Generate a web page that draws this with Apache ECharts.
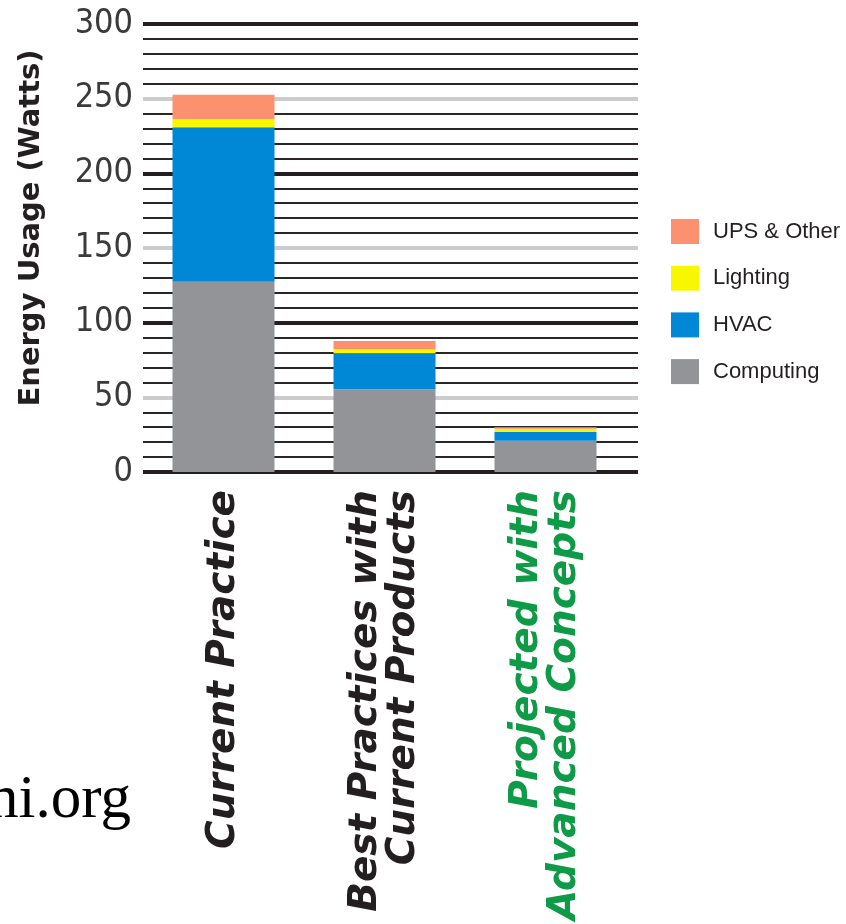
<!DOCTYPE html>
<html>
<head>
<meta charset="utf-8">
<script src="https://cdn.jsdelivr.net/npm/echarts@6/dist/echarts.min.js"></script>
<style>
  html, body { margin: 0; padding: 0; background: #ffffff; }
  #chart { width: 846px; height: 924px; }
</style>
</head>
<body>
<div id="chart"></div>
<script>
// Energy usage by scenario (Watts), stacked by end use
const categories = [
  'Current Practice',
  'Best Practices with\nCurrent Products',
  'Projected with\nAdvanced Concepts'
];
const computing = [127.4, 55.4, 21.0];
const hvac = [103.4, 24.1, 5.8];
const lighting = [5.6, 2.7, 2.2];
const upsOther = [16.2, 5.5, 0.9];

const seriesNames = ['Computing', 'HVAC', 'Lighting', 'UPS & Other'];
const seriesColors = ['#929497', '#0088d6', '#f7f700', '#fc916f'];
const categoryColors = ['#231f20', '#231f20', '#0f9a47'];

const yMin = 0;
const yMax = 300;
const minorStep = 10;
const majorStep = 50;

const chart = echarts.init(document.getElementById('chart'));

const gridTop = 24;
const gridBottom = 924 - 472;

const values = [computing, hvac, lighting, upsOther];

chart.setOption({
  animation: false,
  backgroundColor: '#ffffff',
  grid: [
    // ruled background lines
    { left: 143, right: 846 - 638, top: gridTop, bottom: gridBottom },
    // bars
    { left: 143, right: 846 - 626, top: gridTop, bottom: gridBottom }
  ],
  xAxis: [
    { gridIndex: 0, type: 'value', min: 0, max: 1, show: false },
    {
      gridIndex: 1,
      type: 'category',
      data: categories,
      axisLine: { show: false },
      axisTick: { show: false },
      splitLine: { show: false },
      axisLabel: {
        interval: 0,
        rotate: 90,
        margin: 18,
        fontFamily: 'DejaVu Sans',
        fontWeight: 'bold',
        fontStyle: 'italic',
        fontSize: 39,
        lineHeight: 38,
        align: 'right',
        color: function (value, index) { return categoryColors[index]; }
      }
    }
  ],
  yAxis: [
    {
      gridIndex: 0,
      type: 'value',
      position: 'left',
      min: yMin,
      max: yMax,
      interval: minorStep,
      z: 0,
      axisLine: { show: false },
      axisTick: { show: false },
      axisLabel: { show: false },
      splitLine: { show: true, lineStyle: { color: '#2a2627', width: 2 } }
    },
    {
      gridIndex: 0,
      type: 'value',
      position: 'left',
      min: yMin,
      max: yMax,
      interval: majorStep,
      z: 1,
      name: 'Energy Usage (Watts)',
      nameLocation: 'middle',
      nameGap: 97,
      nameTextStyle: {
        fontFamily: 'DejaVu Sans',
        fontWeight: 'bold',
        fontSize: 29,
        color: '#231f20',
        padding: [0, 0, 0, 40]
      },
      axisLine: { show: false },
      axisTick: { show: false },
      axisLabel: {
        margin: 10,
        fontFamily: "'Liberation Sans Narrow', 'DejaVu Sans Condensed', sans-serif",
        fontSize: 34,
        color: '#3a3a3a'
      },
      splitLine: { show: true, lineStyle: { color: ['#231f20', '#cccccc'], width: 4 } }
    },
    { gridIndex: 1, type: 'value', position: 'left', min: yMin, max: yMax, show: false }
  ],
  legend: {
    orient: 'vertical',
    left: 671,
    top: 219,
    padding: 0,
    itemWidth: 28,
    itemHeight: 25,
    itemGap: 21.7,
    icon: 'rect',
    data: ['UPS & Other', 'Lighting', 'HVAC', 'Computing'],
    textStyle: {
      fontFamily: 'Liberation Sans',
      fontSize: 22,
      color: '#231f20',
      padding: [0, 0, 0, 9]
    }
  },
  series: seriesNames.map(function (name, i) {
    return {
      name: name,
      type: 'bar',
      xAxisIndex: 1,
      yAxisIndex: 2,
      stack: 'total',
      barWidth: 102,
      itemStyle: { color: seriesColors[i] },
      data: values[i]
    };
  }),
  graphic: [
    {
      type: 'text',
      right: 846 - 131,
      top: 770,
      style: {
        text: 'rmi.org',
        fontFamily: "'Liberation Serif', serif",
        fontSize: 61,
        fill: '#000000'
      }
    }
  ]
});
</script>
</body>
</html>
